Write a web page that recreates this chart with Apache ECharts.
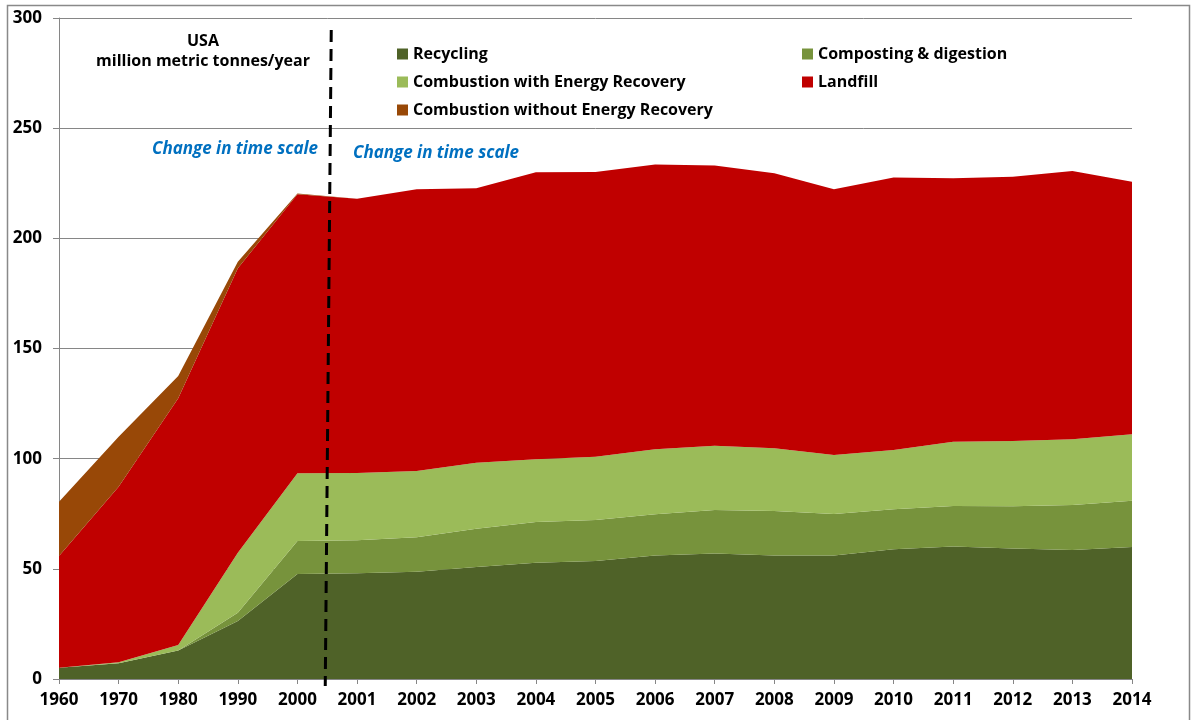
<!DOCTYPE html>
<html>
<head>
<meta charset="utf-8">
<script src="https://cdn.jsdelivr.net/npm/echarts@6/dist/echarts.min.js"></script>
<style>
  html, body { margin: 0; padding: 0; background: #fff; }
  #chart { width: 1192px; height: 720px; }
</style>
</head>
<body>
<div id="chart"></div>
<script>
const years = ['1960', '1970', '1980', '1990', '2000', '2001', '2002', '2003', '2004',
  '2005', '2006', '2007', '2008', '2009', '2010', '2011', '2012', '2013', '2014'];

const recycling = [5.1, 7.2, 12.9, 26.3, 47.7, 48.0, 48.7, 50.8, 52.8,
  53.6, 56.0, 57.0, 56.0, 56.0, 58.9, 60.1, 59.2, 58.6, 59.9];
const composting = [0, 0, 0, 3.8, 14.9, 15.0, 15.6, 17.4, 18.5,
  18.6, 18.8, 19.7, 20.3, 18.9, 18.1, 18.4, 19.2, 20.4, 21.0];
const combustionER = [0, 0.4, 2.5, 27.2, 30.8, 30.5, 30.1, 30.0, 28.4,
  28.7, 29.5, 29.2, 28.4, 26.8, 26.9, 29.2, 29.6, 29.8, 30.2];
const landfill = [50.7, 79.7, 112.0, 129.1, 126.6, 124.5, 127.9, 124.5, 130.3,
  129.2, 129.2, 127.1, 124.8, 120.6, 123.7, 119.6, 120.0, 121.8, 114.6];
const combustionNoER = [24.7, 22.7, 10.1, 3.0, 0.3, 0, 0, 0, 0,
  0, 0, 0, 0, 0, 0, 0, 0, 0, 0];

const yTicks = [0, 50, 100, 150, 200, 250, 300];

const font = '"Open Sans", "DejaVu Sans", sans-serif';
const chartDom = document.getElementById('chart');
const myChart = echarts.init(chartDom);

function areaSeries(name, data, color) {
  return {
    name: name,
    type: 'line',
    stack: 'total',
    data: data,
    symbol: 'none',
    smooth: false,
    lineStyle: { width: 0 },
    itemStyle: { color: color },
    areaStyle: { color: color, opacity: 1 },
    emphasis: { disabled: true }
  };
}

const legendText = { fontFamily: font, fontWeight: 'bold', fontSize: 16, color: '#000', lineHeight: 18 };

let option = {
  animation: false,
  textStyle: { fontFamily: font },
  grid: { left: 59, right: 60, top: 18, bottom: 41, containLabel: false },
  legend: [
    {
      orient: 'vertical', left: 392, top: 40, itemGap: 10, padding: 5,
      icon: 'rect', itemWidth: 11, itemHeight: 11,
      textStyle: legendText,
      data: ['Recycling', 'Combustion with Energy Recovery', 'Combustion without Energy Recovery']
    },
    {
      orient: 'vertical', left: 797, top: 40, itemGap: 10, padding: 5,
      icon: 'rect', itemWidth: 11, itemHeight: 11,
      textStyle: legendText,
      data: ['Composting & digestion', 'Landfill']
    }
  ],
  xAxis: {
    type: 'category',
    boundaryGap: false,
    data: years,
    axisLine: { lineStyle: { color: '#868686', width: 1 } },
    axisTick: { show: true, length: 5, lineStyle: { color: '#868686' } },
    axisLabel: { color: '#000', fontWeight: 'bold', fontSize: 17, margin: 13, fontFamily: font },
    splitLine: { show: false }
  },
  yAxis: {
    type: 'value',
    min: yTicks[0],
    max: yTicks[yTicks.length - 1],
    interval: 50,
    axisLine: { show: true, lineStyle: { color: '#868686', width: 1 } },
    axisTick: { show: true, length: 6, lineStyle: { color: '#868686' } },
    axisLabel: { color: '#000', fontWeight: 'bold', fontSize: 17, margin: 17, fontFamily: font },
    splitLine: { show: true, lineStyle: { color: '#868686', width: 1 } }
  },
  series: [
    areaSeries('Recycling', recycling, '#4F6228'),
    areaSeries('Composting & digestion', composting, '#77933C'),
    areaSeries('Combustion with Energy Recovery', combustionER, '#9BBB59'),
    areaSeries('Landfill', landfill, '#C00000'),
    areaSeries('Combustion without Energy Recovery', combustionNoER, '#984807')
  ]
};

option && myChart.setOption(option);

// dashed "change in time scale" divider between 2000 and 2001
const p2000 = myChart.convertToPixel({ xAxisIndex: 0 }, '2000');
const p2001 = myChart.convertToPixel({ xAxisIndex: 0 }, '2001');
const midX = (p2000 + p2001) / 2;

myChart.setOption({
  graphic: [
    {
      type: 'rect', silent: true, z: 0,
      shape: { x: 7.5, y: 5.5, width: 1182, height: 730 },
      style: { fill: null, stroke: '#898989', lineWidth: 1.5 }
    },
    {
      type: 'line', silent: true, z: 100,
      shape: { x1: midX + 4, y1: 30, x2: midX - 2, y2: 686 },
      style: { stroke: '#000', lineWidth: 3, lineDash: [12, 7] }
    },
    {
      type: 'text', silent: true, z: 100,
      style: {
        x: 203, y: 31, text: 'USA\nmillion metric tonnes/year', align: 'center',
        font: 'bold 16px ' + font, fill: '#000', lineHeight: 20
      }
    },
    {
      type: 'text', silent: true, z: 100,
      style: {
        x: 235, y: 141, text: 'Change in time scale', align: 'center',
        font: 'italic bold 17px ' + font, fill: '#0070C0'
      }
    },
    {
      type: 'text', silent: true, z: 100,
      style: {
        x: 436, y: 145, text: 'Change in time scale', align: 'center',
        font: 'italic bold 17px ' + font, fill: '#0070C0'
      }
    }
  ]
});
</script>
</body>
</html>
